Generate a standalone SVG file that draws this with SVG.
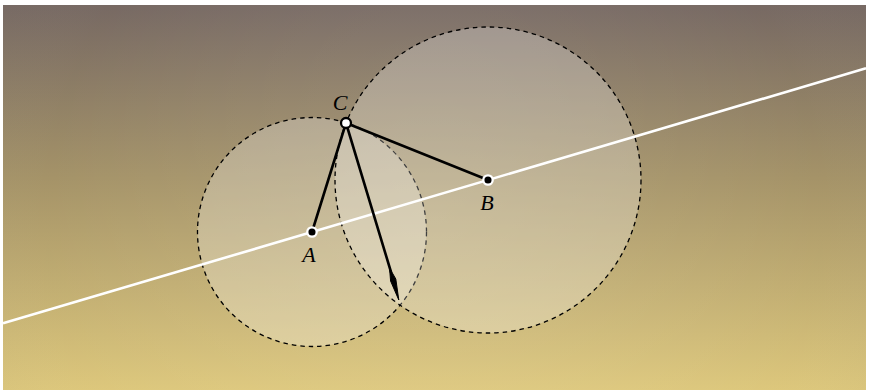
<svg xmlns="http://www.w3.org/2000/svg" width="869" height="390" viewBox="0 0 869 390">
<defs>
<linearGradient id="bg" x1="0" y1="0" x2="0" y2="1">
<stop offset="0" stop-color="#746660"/>
<stop offset="0.45" stop-color="#a39165"/>
<stop offset="1" stop-color="#dcc679"/>
</linearGradient>
<radialGradient id="vig" cx="0.5" cy="0.55" r="0.75" gradientTransform="translate(0.5 0.55) scale(1 2.2) translate(-0.5 -0.55)">
<stop offset="0" stop-color="#ffffff" stop-opacity="0.12"/>
<stop offset="0.6" stop-color="#ffffff" stop-opacity="0.02"/>
<stop offset="1" stop-color="#000000" stop-opacity="0.14"/>
</radialGradient>
<style>
.circ{fill:#ffffff;fill-opacity:0.25;stroke:#000;stroke-width:1.3;stroke-dasharray:4.5 4}
.seg{stroke:#000;stroke-width:2.6;fill:none;stroke-linecap:round}
.lbl{font-family:"Liberation Serif","DejaVu Serif",serif;font-style:italic;font-size:22px;fill:#000;text-anchor:middle}
</style>
</defs>
<rect x="0" y="0" width="869" height="390" fill="#ffffff"/>
<rect x="3" y="5" width="863" height="385" fill="url(#bg)"/>
<rect x="3" y="5" width="863" height="385" fill="url(#vig)"/>
<g id="circleA"><circle class="circ" cx="312" cy="232" r="114.5"/></g>
<g id="circleB"><circle class="circ" cx="488" cy="180" r="153"/></g>
<g id="connectors">
<line x1="3" y1="323.3" x2="866" y2="68.3" stroke="#ffffff" stroke-width="2.6"/>
<line class="seg" x1="346" y1="123" x2="312" y2="232"/>
<line class="seg" x1="346" y1="123" x2="488" y2="180"/>
<line class="seg" x1="346" y1="123" x2="391" y2="272"/>
<path d="M389.5 268 L395.8 279 L398.8 300 L390.6 281 Z" fill="#000" stroke="#000" stroke-width="1" stroke-linejoin="round"/>
</g>
<g id="A"><circle cx="312" cy="232" r="4.7" fill="#000" stroke="#fff" stroke-width="2.3"/><text class="lbl" x="309" y="262">A</text></g>
<g id="B"><circle cx="488" cy="180" r="4.7" fill="#000" stroke="#fff" stroke-width="2.3"/><text class="lbl" x="487" y="210">B</text></g>
<g id="C"><circle cx="346" cy="123" r="5" fill="#fff" stroke="#000" stroke-width="2.3"/><text class="lbl" x="340" y="110">C</text></g>
</svg>
